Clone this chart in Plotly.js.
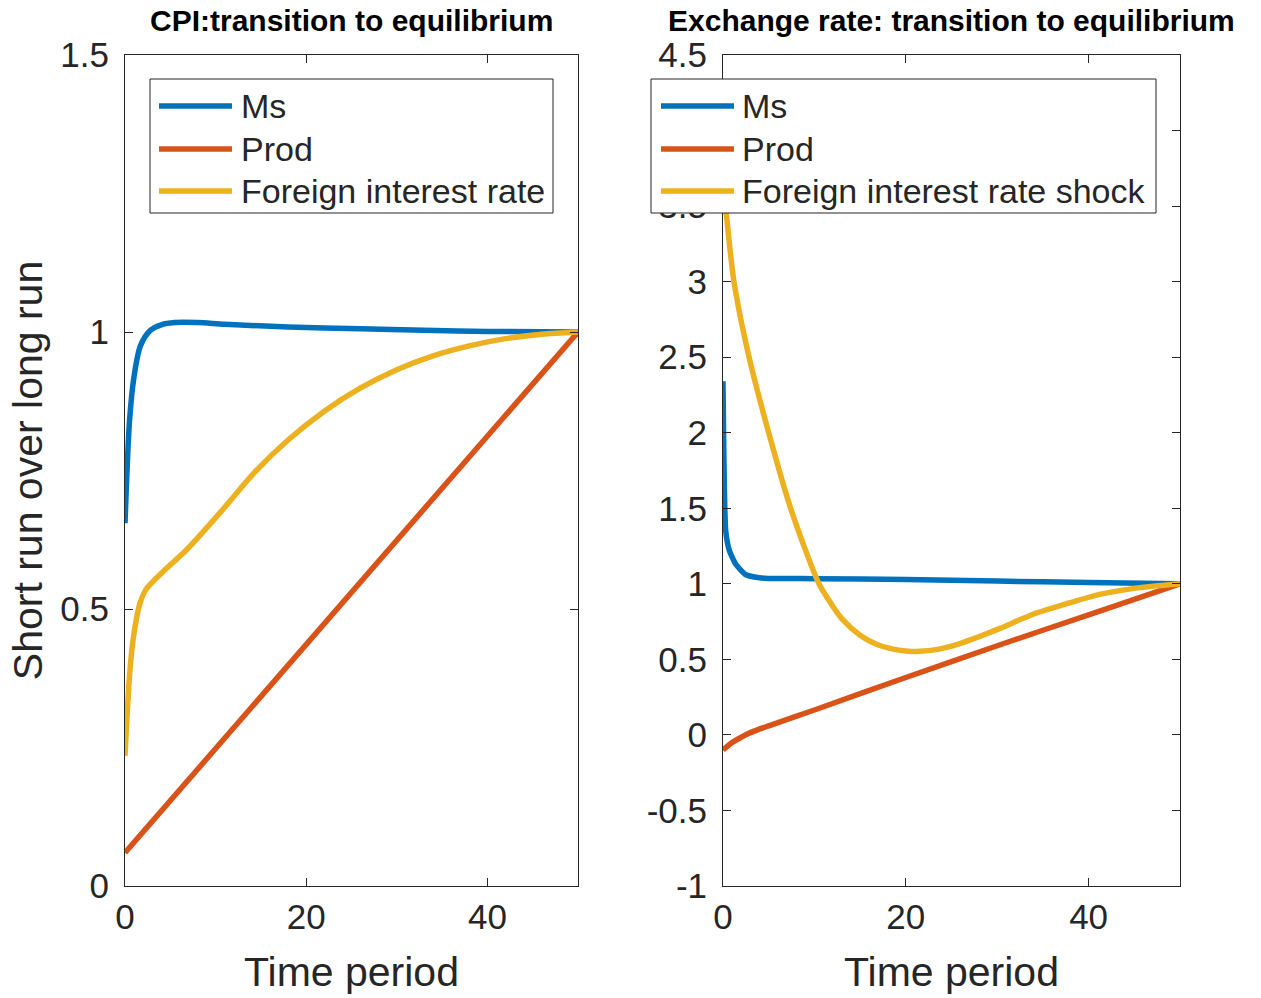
<!DOCTYPE html>
<html>
<head>
<meta charset="utf-8">
<script src="https://cdn.plot.ly/plotly-3.0.1.min.js"></script>
<style>html,body{margin:0;padding:0;background:#fff;}</style>
</head>
<body>
<div id="chart" style="width:1261px;height:998px;"></div>
<script>
// ---- Data ----
const seriesNames = ["Ms", "Prod", "Foreign interest rate"];
const seriesNamesRight = ["Ms", "Prod", "Foreign interest rate shock"];
const subplotTitles = ["CPI:transition to equilibrium", "Exchange rate: transition to equilibrium"];
const xTitle = "Time period";
const yTitle = "Short run over long run";

// CPI panel
const cpiMsT   = [0, 0.5, 1, 1.7, 2.8, 4, 5.5, 8, 11, 18, 26, 33, 40, 50];
const cpiMsV   = [0.655, 0.84, 0.92, 0.975, 1.003, 1.013, 1.017, 1.017, 1.014, 1.009, 1.006, 1.003, 1.001, 1.0];
const cpiProdT = [0, 10, 20, 30, 40, 50];
const cpiProdV = [0.06, 0.248, 0.436, 0.624, 0.812, 1.0];
const cpiFirT  = [0, 0.5, 0.92, 1.66, 2.3, 3.1, 4.5, 6.8, 10.5, 14.2, 18, 22, 26, 30, 34, 38, 42, 46, 50];
const cpiFirV  = [0.235, 0.38, 0.448, 0.511, 0.535, 0.55, 0.572, 0.607, 0.674, 0.745, 0.805, 0.857, 0.899, 0.932, 0.957, 0.975, 0.988, 0.996, 1.0];

// Exchange-rate panel
const erMsT   = [0, 0.3, 0.7, 1.4, 2.5, 4, 5, 7, 10, 20, 30, 40, 50];
const erMsV   = [2.34, 1.35, 1.22, 1.13, 1.06, 1.04, 1.036, 1.035, 1.034, 1.028, 1.018, 1.009, 1.0];
const erProdT = [0, 1, 2, 3, 5, 10, 20, 30, 40, 50];
const erProdV = [-0.1, -0.05, -0.015, 0.015, 0.06, 0.165, 0.38, 0.59, 0.795, 1.0];
const erFirT  = [0, 0.36, 1.2, 2.85, 5, 7.4, 10.5, 11.6, 13, 15, 16.8, 18.6, 20, 21.5, 23.5, 25.9, 28, 30.3, 34, 38, 41.2, 45, 50];
const erFirV  = [3.65, 3.45, 3.0, 2.5, 2.0, 1.5, 1.0, 0.89, 0.77, 0.66, 0.60, 0.568, 0.556, 0.553, 0.566, 0.604, 0.65, 0.705, 0.80, 0.875, 0.93, 0.97, 1.0];

// Tick labels
const xTickVals = [0, 20, 40];
const xTickText = ["0", "20", "40"];
const cpiTickVals = [0, 0.5, 1, 1.5];
const cpiTickText = ["0", "0.5", "1", "1.5"];
const erTickVals = [-1, -0.5, 0, 0.5, 1, 1.5, 2, 2.5, 3, 3.5, 4, 4.5];
const erTickText = ["-1", "-0.5", "0", "0.5", "1", "1.5", "2", "2.5", "3", "3.5", "4", "4.5"];

// ---- Styling ----
const colors = ["#0072BD", "#D95319", "#EDB120"];
const ink = "#262626";
const FONT = "Liberation Sans, Arial, Helvetica, sans-serif";
const LW = 5.5;
const W = 1261, H = 998;

function tr(x, y, name, i, xa, ya, smooth) {
  const line = {color: colors[i], width: LW};
  if (smooth) { line.shape = "spline"; line.smoothing = smooth; }
  return {x: x, y: y, name: name, type: "scatter", mode: "lines", line: line,
    xaxis: xa, yaxis: ya, showlegend: false, hoverinfo: "skip"};
}

const data = [
  tr(cpiMsT, cpiMsV, seriesNames[0], 0, "x", "y", 0.8),
  tr(cpiProdT, cpiProdV, seriesNames[1], 1, "x", "y", 0),
  tr(cpiFirT, cpiFirV, seriesNames[2], 2, "x", "y", 0.8),
  tr(erMsT, erMsV, seriesNamesRight[0], 0, "x2", "y2", 0.5),
  tr(erProdT, erProdV, seriesNamesRight[1], 1, "x2", "y2", 0.8),
  tr(erFirT, erFirV, seriesNamesRight[2], 2, "x2", "y2", 0.8)
];

const yDom = [1 - 886 / H, 1 - 55 / H];

function xAxis(dom, anchor) {
  return {domain: dom, anchor: anchor, range: [0, 50], tickvals: xTickVals, ticktext: xTickText,
    ticks: "inside", ticklen: 8, tickwidth: 1, tickcolor: ink, showline: true, linecolor: ink, linewidth: 1,
    mirror: "ticks", showgrid: false, zeroline: false, tickfont: {family: FONT, size: 35, color: ink},
    title: {text: xTitle, font: {family: FONT, size: 41, color: ink}, standoff: 22}, fixedrange: true};
}
function yAxis(anchor, range, vals, text, title) {
  const a = {domain: yDom, anchor: anchor, range: range, tickvals: vals, ticktext: text,
    ticks: "inside", ticklen: 8, tickwidth: 1, tickcolor: ink, showline: true, linecolor: ink, linewidth: 1,
    mirror: "ticks", showgrid: false, zeroline: false, tickfont: {family: FONT, size: 35, color: ink},
    ticklabelstandoff: 8, fixedrange: true};
  if (title) a.title = {text: title, font: {family: FONT, size: 41, color: ink}, standoff: 4};
  return a;
}

// Legend boxes (MATLAB-style: long line samples), built from the series names
const legendBoxes = [
  {names: seriesNames, box: [150, 553], sample: [159, 232], textX: 239},
  {names: seriesNamesRight, box: [651, 1156], sample: [661, 734], textX: 740}
];
const legendTop = 79, legendBottom = 213, legendRows = [106, 149, 191];

const shapes = [], annotations = [];
legendBoxes.forEach(function (lg) {
  shapes.push({type: "rect", xref: "paper", yref: "paper", layer: "above",
    x0: lg.box[0] / W, x1: lg.box[1] / W, y0: 1 - legendBottom / H, y1: 1 - legendTop / H,
    fillcolor: "#ffffff", line: {color: ink, width: 1}});
  lg.names.forEach(function (nm, i) {
    shapes.push({type: "line", xref: "paper", yref: "paper", layer: "above",
      x0: lg.sample[0] / W, x1: lg.sample[1] / W, y0: 1 - legendRows[i] / H, y1: 1 - legendRows[i] / H,
      line: {color: colors[i], width: LW}});
    annotations.push({text: nm, xref: "paper", yref: "paper", x: lg.textX / W, y: 1 - legendRows[i] / H,
      xanchor: "left", yanchor: "middle", showarrow: false, font: {family: FONT, size: 34, color: ink}});
  });
});

[[125, 578], [723, 1180]].forEach(function (b, k) {
  annotations.push({text: "<b>" + subplotTitles[k] + "</b>", xref: "paper", yref: "paper",
    x: (b[0] + b[1]) / 2 / W, y: 1 - 20 / H, xanchor: "center", yanchor: "middle", showarrow: false,
    font: {family: FONT, size: 30, color: "#000"}});
});

const layout = {
  width: W, height: H, autosize: false,
  margin: {l: 0, r: 0, t: 0, b: 0},
  paper_bgcolor: "#ffffff", plot_bgcolor: "#ffffff",
  showlegend: false,
  xaxis: xAxis([125 / W, 578 / W], "y"),
  yaxis: yAxis("x", [0, 1.5], cpiTickVals, cpiTickText, yTitle),
  xaxis2: xAxis([723 / W, 1180 / W], "y2"),
  yaxis2: yAxis("x2", [-1, 4.5], erTickVals, erTickText, null),
  shapes: shapes,
  annotations: annotations
};

Plotly.newPlot("chart", data, layout, {displayModeBar: false, staticPlot: true});
</script>
</body>
</html>
